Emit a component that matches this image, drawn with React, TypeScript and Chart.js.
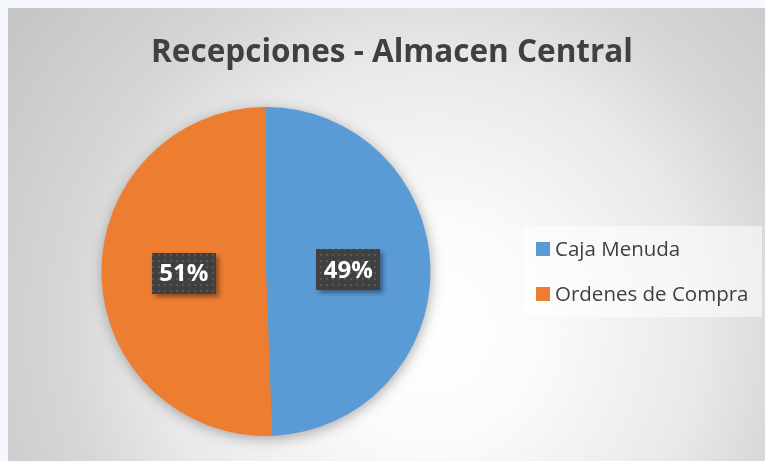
import React, { useEffect, useRef } from "react";
import { Chart, registerables } from "chart.js";

Chart.register(...registerables);

const titleText = "Recepciones - Almacen Central";
const categories = ["Caja Menuda", "Ordenes de Compra"];
const values = [49.4, 50.6];
const colors = ["#5B9BD5", "#ED7D31"];

const FONT = "'Open Sans', 'Noto Sans', sans-serif";

function makePattern(ctx: CanvasRenderingContext2D) {
  const c = document.createElement("canvas");
  c.width = 6;
  c.height = 6;
  const p = c.getContext("2d")!;
  p.fillStyle = "#404040";
  p.fillRect(0, 0, 6, 6);
  p.fillStyle = "#575757";
  p.fillRect(2, 2, 2, 2);
  return ctx.createPattern(c, "repeat");
}

const decorPlugin = {
  id: "decor",
  beforeDraw(chart: any) {
    const ctx: CanvasRenderingContext2D = chart.ctx;
    const W = chart.width;
    const H = chart.height;
    ctx.save();
    ctx.fillStyle = "#f5f8fc";
    ctx.fillRect(0, 0, W, H);
    const g = ctx.createRadialGradient(430, 330, 0, 430, 330, 540);
    g.addColorStop(0, "#ffffff");
    g.addColorStop(0.2, "#fbfbfb");
    g.addColorStop(0.5, "#e9e9e9");
    g.addColorStop(0.68, "#d6d6d6");
    g.addColorStop(1, "#c3c3c3");
    ctx.fillStyle = g;
    ctx.fillRect(8, 8, W - 8, H - 8);

    // title
    ctx.fillStyle = "#404040";
    ctx.font = `bold 31.5px ${FONT}`;
    ctx.textAlign = "center";
    ctx.textBaseline = "middle";
    ctx.fillText(titleText, 392, 53);

    // legend
    ctx.fillStyle = "rgba(255,255,255,0.55)";
    ctx.fillRect(523, 226, 239, 91);
    ctx.font = `20.5px ${FONT}`;
    ctx.textAlign = "left";
    const labels: string[] = chart.data.labels;
    const bg: string[] = chart.data.datasets[0].backgroundColor;
    labels.forEach((lab, i) => {
      const cy = 249 + i * 45;
      ctx.fillStyle = bg[i];
      ctx.fillRect(536, cy - 7, 14, 14);
      ctx.fillStyle = "#404040";
      ctx.fillText(lab, 555, cy + 1);
    });
    ctx.restore();
  },
  beforeDatasetsDraw(chart: any) {
    const meta = chart.getDatasetMeta(0);
    const arc = meta.data[0];
    if (!arc) return;
    const ctx: CanvasRenderingContext2D = chart.ctx;
    ctx.save();
    ctx.shadowColor = "rgba(0,0,0,0.35)";
    ctx.shadowBlur = 14;
    ctx.shadowOffsetX = 1;
    ctx.shadowOffsetY = 3;
    ctx.fillStyle = "#999";
    ctx.beginPath();
    ctx.arc(arc.x, arc.y, arc.outerRadius - 1, 0, Math.PI * 2);
    ctx.fill();
    ctx.restore();
  },
  afterDatasetsDraw(chart: any) {
    const ctx: CanvasRenderingContext2D = chart.ctx;
    const meta = chart.getDatasetMeta(0);
    const data: number[] = chart.data.datasets[0].data;
    const total = data.reduce((a, b) => a + b, 0);
    const pattern = makePattern(ctx);
    meta.data.forEach((el: any, i: number) => {
      const pos = el.tooltipPosition();
      const txt = Math.round((data[i] / total) * 100) + "%";
      const w = 64;
      const h = 41;
      ctx.save();
      ctx.shadowColor = "rgba(0,0,0,0.4)";
      ctx.shadowBlur = 5;
      ctx.shadowOffsetX = 3;
      ctx.shadowOffsetY = 3;
      ctx.fillStyle = pattern || "#404040";
      ctx.fillRect(Math.round(pos.x - w / 2), Math.round(pos.y - h / 2), w, h);
      ctx.restore();
      ctx.save();
      ctx.fillStyle = "#ffffff";
      ctx.font = `bold 24px ${FONT}`;
      ctx.textAlign = "center";
      ctx.textBaseline = "middle";
      ctx.fillText(txt, pos.x, pos.y + 1);
      ctx.restore();
    });
  },
};

export default function App() {
  const ref = useRef<HTMLCanvasElement>(null);
  useEffect(() => {
    if (!ref.current) return;
    const chart = new Chart(ref.current, {
      type: "pie",
      data: {
        labels: categories,
        datasets: [
          {
            data: values,
            backgroundColor: colors,
            borderWidth: 0,
          },
        ],
      },
      options: {
        animation: false,
        responsive: false,
        layout: { padding: { top: 107, bottom: 25, left: 8, right: 241 } },
        plugins: {
          legend: { display: false },
          title: { display: false },
          tooltip: { enabled: false },
        },
      },
      plugins: [decorPlugin],
    });
    return () => chart.destroy();
  }, []);
  return (
    <div style={{ position: "absolute", left: 0, top: 0, width: 765, height: 461 }}>
      <canvas ref={ref} width={765} height={461} style={{ display: "block" }} />
    </div>
  );
}
